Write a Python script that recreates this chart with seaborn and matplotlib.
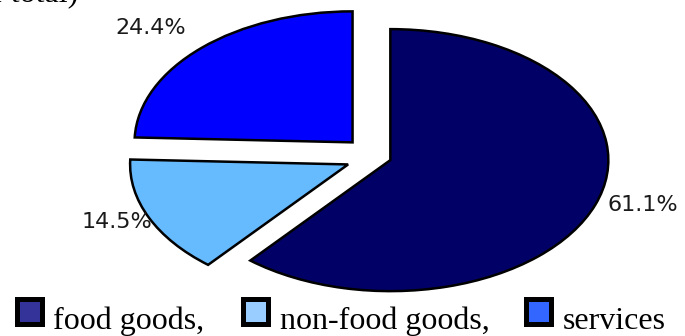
import numpy as np
import matplotlib
matplotlib.use("Agg")
import matplotlib.pyplot as plt
import seaborn as sns
from matplotlib.patches import Rectangle

# Structure of consumer spending, % of total
categories = ["food goods", "non-food goods", "services"]
shares = [61.1, 14.5, 24.4]
legend_labels = ["food goods,", "non-food goods,", "services"]

wedge_colors = ["#000066", "#66BBFF", "#0000FF"]
swatch_colors = ["#333399", "#99CCFF", "#3366FF"]
explode = [0.07, 0.14, 0.155]
label_dist = [1.21, 1.15, 1.27]
label_turn = [3.5, -1.3, 2.8]   # degrees added to each wedge's mid-angle

sns.set_theme(style="white")
plt.rcParams["font.family"] = ["DejaVu Sans"]

W, H = 685, 336
fig = plt.figure(figsize=(W / 100, H / 100), dpi=100)
ax = fig.add_axes([0, 0, 1, 1])

wedges, texts, autotexts = ax.pie(
    shares,
    explode=explode,
    colors=wedge_colors,
    startangle=90,
    counterclock=False,
    autopct="%.1f%%",
    pctdistance=1.2,
    wedgeprops=dict(edgecolor="black", linewidth=1.8, joinstyle="miter"),
    textprops=dict(color="#1a1a1a", fontsize=16),
)

# percentage labels placed outside each wedge, near its mid-angle
for w, t, d, turn in zip(wedges, autotexts, label_dist, label_turn):
    ang = np.deg2rad((w.theta1 + w.theta2) / 2 + turn)
    cx, cy = w.center
    t.set_position((cx + d * np.cos(ang), cy + d * np.sin(ang)))
    t.set_ha("center")
    t.set_va("center")

# stretched (elliptical) pie
ax.set_aspect("auto")
ax.set_xlim(-376 / 218, 309 / 218)
ax.set_ylim(-179 / 131, 157 / 131)
ax.axis("off")

# caption fragment at the top
fig.text(78 / W, 1 - 1 / H, "of total)", ha="right", va="baseline",
         family="Liberation Serif", fontsize=23, color="black")

# legend row
swatch_x = [14, 240, 523]
text_x = [53, 280, 563]
for sx, tx, col, lab in zip(swatch_x, text_x, swatch_colors, legend_labels):
    fig.add_artist(Rectangle(((sx + 2.5) / W, 1 - (296 + 27.5) / H), 25 / W, 25 / H,
                             transform=fig.transFigure, facecolor=col,
                             edgecolor="black", linewidth=3.6, joinstyle="miter"))
    fig.text(tx / W, 1 - 329 / H, lab, ha="left", va="baseline",
             family="Liberation Serif", fontsize=23, color="black")

fig.savefig("out.png", dpi=100, facecolor="white")
